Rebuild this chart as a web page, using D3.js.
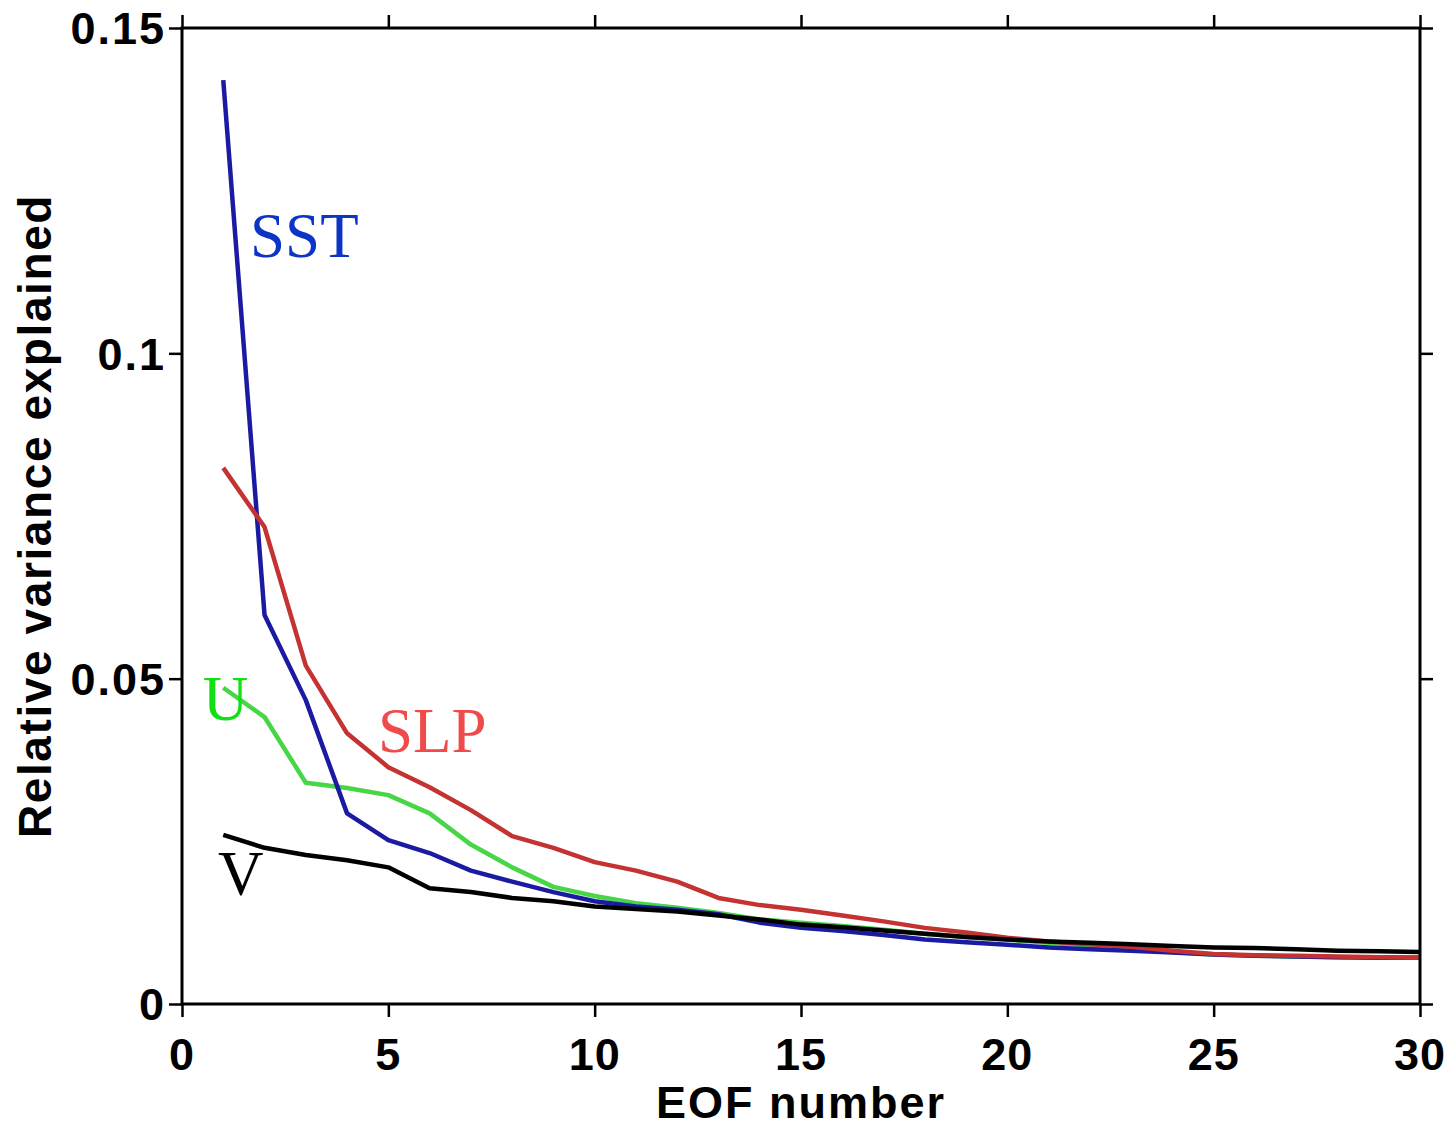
<!DOCTYPE html>
<html>
<head>
<meta charset="utf-8">
<script src="https://cdn.jsdelivr.net/npm/d3@7"></script>
<style>
  body { margin: 0; background: #fff; }
  svg { display: block; }
</style>
</head>
<body>
<div id="chart"></div>
<script>
// EOF number 1..30
const eofs = d3.range(1, 31);

// relative variance explained
const sst = [0.142, 0.0598, 0.0467, 0.0293, 0.0252, 0.0232, 0.0205, 0.0188, 0.0172, 0.0158,
             0.0150, 0.0145, 0.0138, 0.0125, 0.0117, 0.0112, 0.0106, 0.0099, 0.0095, 0.0091,
             0.0087, 0.0084, 0.0082, 0.0079, 0.0076, 0.0074, 0.0073, 0.0072, 0.0071, 0.0071];
const slp = [0.0824, 0.0733, 0.0520, 0.0416, 0.0364, 0.0333, 0.0298, 0.0258, 0.0240, 0.0218,
             0.0205, 0.0188, 0.0163, 0.0152, 0.0145, 0.0136, 0.0127, 0.0117, 0.0110, 0.0102,
             0.0096, 0.0092, 0.0088, 0.0082, 0.0077, 0.0075, 0.0074, 0.0073, 0.0072, 0.0071];
const u   = [0.0486, 0.0441, 0.0340, 0.0332, 0.0321, 0.0293, 0.0245, 0.0210, 0.0180, 0.0166,
             0.0155, 0.0148, 0.0140, 0.0130, 0.0125, 0.0120, 0.0114, 0.0108, 0.0103, 0.0099,
             0.0094, 0.0090, 0.0086, 0.0080, 0.0076, 0.0074, 0.0073, 0.0072, 0.0072, 0.0071];
const v   = [0.0260, 0.0240, 0.0229, 0.0221, 0.0210, 0.0178, 0.0172, 0.0163, 0.0158, 0.0150,
             0.0146, 0.0142, 0.0136, 0.0130, 0.0122, 0.0118, 0.0113, 0.0108, 0.0103, 0.0099,
             0.0096, 0.0094, 0.0092, 0.0089, 0.0087, 0.0086, 0.0084, 0.0082, 0.0081, 0.0080];

const xTicks = [0, 5, 10, 15, 20, 25, 30];
const yTicks = [0, 0.05, 0.1, 0.15];
const yTickLabels = ['0', '0.05', '0.1', '0.15'];

// series drawn in this order
const seriesNames = ['U', 'SST', 'SLP', 'V'];
const seriesValues = [u, sst, slp, v];
const lineColors = ['#46d646', '#1a1aa2', '#c43232', '#000000'];

// curve labels: name, anchor in data units, colour
const labelNames = ['SST', 'SLP', 'U', 'V'];
const labelX = [1.65, 4.75, 0.5, 0.87];
const labelY = [0.1148, 0.0387, 0.0436, 0.01675];
const labelColors = ['#0c34c6', '#f04a4a', '#12e012', '#000000'];

const W = 1452, H = 1131;
const MARGIN = { top: 28, right: 32, bottom: 127, left: 182 };

const svg = d3.select('#chart').append('svg')
    .attr('width', W)
    .attr('height', H);

const x = d3.scaleLinear().domain([0, 30]).range([MARGIN.left, W - MARGIN.right]);
const y = d3.scaleLinear().domain([0, 0.15]).range([H - MARGIN.bottom, MARGIN.top]);

const font = '"Liberation Sans", Arial, Helvetica, sans-serif';

// data lines
const line = d3.line()
    .x((d, i) => x(eofs[i]))
    .y(d => y(d));

svg.append('g')
    .selectAll('path')
    .data(seriesValues)
    .enter().append('path')
    .attr('d', line)
    .attr('fill', 'none')
    .attr('stroke', (d, i) => lineColors[i])
    .attr('stroke-width', 4.5)
    .attr('stroke-linejoin', 'round');

// axes: ticks point outward on all four sides
const tickLen = 13;
function styleAxis(g) {
    g.select('.domain').remove();
    g.selectAll('.tick line').attr('stroke', '#000').attr('stroke-width', 2.5);
}

svg.append('g')
    .attr('transform', `translate(0,${y(0)})`)
    .call(d3.axisBottom(x).tickValues(xTicks).tickSize(tickLen).tickFormat(''))
    .call(styleAxis);

svg.append('g')
    .attr('transform', `translate(0,${y(0.15)})`)
    .call(d3.axisTop(x).tickValues(xTicks).tickSize(tickLen).tickFormat(''))
    .call(styleAxis);

svg.append('g')
    .attr('transform', `translate(${x(0)},0)`)
    .call(d3.axisLeft(y).tickValues(yTicks).tickSize(tickLen).tickFormat(''))
    .call(styleAxis);

svg.append('g')
    .attr('transform', `translate(${x(30)},0)`)
    .call(d3.axisRight(y).tickValues(yTicks).tickSize(tickLen).tickFormat(''))
    .call(styleAxis);

// frame
svg.append('rect')
    .attr('x', x(0))
    .attr('y', y(0.15))
    .attr('width', x(30) - x(0))
    .attr('height', y(0) - y(0.15))
    .attr('fill', 'none')
    .attr('stroke', '#000')
    .attr('stroke-width', 3);

// tick labels
svg.append('g')
    .selectAll('text')
    .data(xTicks)
    .enter().append('text')
    .attr('x', d => x(d))
    .attr('y', 1070)
    .attr('text-anchor', 'middle')
    .style('font-family', font)
    .style('font-weight', 'bold')
    .style('font-size', '45px')
    .style('letter-spacing', '1px')
    .text(d => d);

svg.append('g')
    .selectAll('text')
    .data(yTicks)
    .enter().append('text')
    .attr('x', 166)
    .attr('y', d => y(d))
    .attr('dy', '0.36em')
    .attr('text-anchor', 'end')
    .style('font-family', font)
    .style('font-weight', 'bold')
    .style('font-size', '45px')
    .style('letter-spacing', '2px')
    .text((d, i) => yTickLabels[i]);

// axis titles
svg.append('text')
    .attr('x', (x(0) + x(30)) / 2)
    .attr('y', 1118)
    .attr('text-anchor', 'middle')
    .style('font-family', font)
    .style('font-weight', 'bold')
    .style('font-size', '45px')
    .style('letter-spacing', '2px')
    .text('EOF number');

svg.append('text')
    .attr('transform', `translate(51,${(y(0) + y(0.15)) / 2}) rotate(-90)`)
    .attr('text-anchor', 'middle')
    .style('font-family', font)
    .style('font-weight', 'bold')
    .style('font-size', '46px')
    .style('letter-spacing', '1.6px')
    .text('Relative variance explained');

// curve labels
svg.append('g')
    .selectAll('text')
    .data(labelNames)
    .enter().append('text')
    .attr('x', (d, i) => x(labelX[i]))
    .attr('y', (d, i) => y(labelY[i]))
    .attr('fill', (d, i) => labelColors[i])
    .style('font-family', '"Liberation Serif", "Times New Roman", serif')
    .style('font-size', '63px')
    .text(d => d);
</script>
</body>
</html>
